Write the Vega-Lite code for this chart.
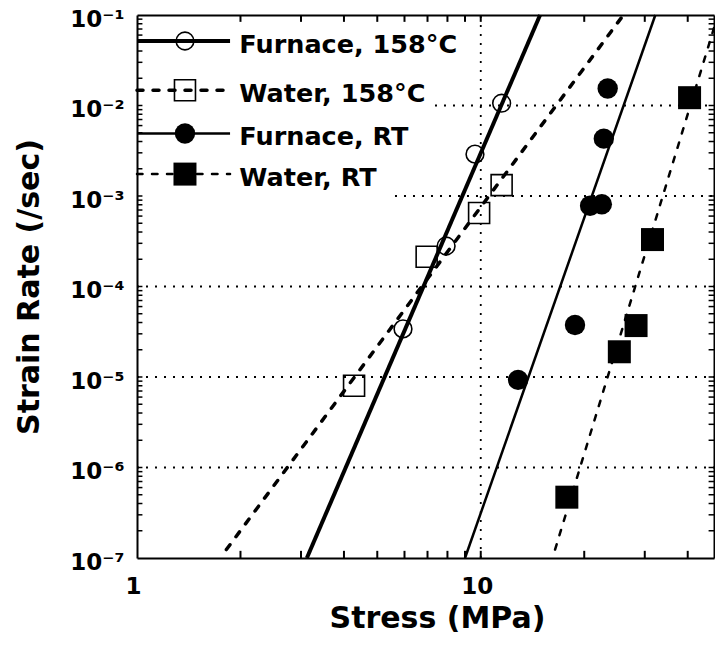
{
  "$schema": "https://vega.github.io/schema/vega-lite/v6.json",
  "width": 577,
  "height": 543,
  "autosize": "none",
  "padding": {"left": 137, "top": 15, "right": 1, "bottom": 88},
  "background": "white",
  "config": {
    "view": {"stroke": null},
    "font": "DejaVu Sans",
    "axis": {
      "grid": false,
      "ticks": false,
      "domainColor": "black",
      "domainWidth": 2,
      "labelFont": "DejaVu Sans",
      "labelFontWeight": "bold",
      "labelFontSize": 23,
      "labelColor": "black",
      "labelOverlap": false,
      "labelFlush": false,
      "titleFont": "DejaVu Sans",
      "titleFontWeight": "bold",
      "titleFontSize": 30,
      "titleColor": "black"
    }
  },
  "datasets": {
    "grid": [
      {"y": 0.01, "xa": 7.36, "xb": 47.7},
      {"y": 0.001, "xa": 5.63, "xb": 47.7},
      {"y": 0.0001, "xa": 1, "xb": 47.7},
      {"y": 0.00001, "xa": 1, "xb": 47.7},
      {"y": 0.000001, "xa": 1, "xb": 47.7}
    ],
    "vgrid": [
      {"x": 10, "ya": 1e-7, "yb": 0.1}
    ],
    "xticks": [
      {"v": 2}, {"v": 3}, {"v": 4}, {"v": 5}, {"v": 6}, {"v": 7}, {"v": 8}, {"v": 9},
      {"v": 10}, {"v": 20}, {"v": 30}, {"v": 40}
    ],
    "yticks": [
      {"v": 2e-7}, {"v": 3e-7}, {"v": 4e-7}, {"v": 5e-7}, {"v": 6e-7}, {"v": 7e-7}, {"v": 8e-7}, {"v": 9e-7},
      {"v": 1e-6}, {"v": 2e-6}, {"v": 3e-6}, {"v": 4e-6}, {"v": 5e-6}, {"v": 6e-6}, {"v": 7e-6}, {"v": 8e-6}, {"v": 9e-6},
      {"v": 1e-5}, {"v": 2e-5}, {"v": 3e-5}, {"v": 4e-5}, {"v": 5e-5}, {"v": 6e-5}, {"v": 7e-5}, {"v": 8e-5}, {"v": 9e-5},
      {"v": 1e-4}, {"v": 2e-4}, {"v": 3e-4}, {"v": 4e-4}, {"v": 5e-4}, {"v": 6e-4}, {"v": 7e-4}, {"v": 8e-4}, {"v": 9e-4},
      {"v": 0.001}, {"v": 0.002}, {"v": 0.003}, {"v": 0.004}, {"v": 0.005}, {"v": 0.006}, {"v": 0.007}, {"v": 0.008}, {"v": 0.009},
      {"v": 0.01}, {"v": 0.02}, {"v": 0.03}, {"v": 0.04}, {"v": 0.05}, {"v": 0.06}, {"v": 0.07}, {"v": 0.08}, {"v": 0.09}
    ],
    "lines": [
      {"series": "Furnace, 158°C", "part": "fit", "x1": 3.12, "y1": 1e-7, "x2": 14.88, "y2": 0.1},
      {"series": "Furnace, 158°C", "part": "key", "x1": 1, "y1": 0.0516, "x2": 1.865, "y2": 0.0516},
      {"series": "Water, 158°C", "part": "fit", "x1": 1.82, "y1": 1.24e-7, "x2": 26.0, "y2": 0.1},
      {"series": "Water, 158°C", "part": "key", "x1": 1, "y1": 0.01476, "x2": 1.865, "y2": 0.01476},
      {"series": "Furnace, RT", "part": "fit", "x1": 9.0, "y1": 1e-7, "x2": 32.2, "y2": 0.1},
      {"series": "Furnace, RT", "part": "key", "x1": 1, "y1": 0.00491, "x2": 1.865, "y2": 0.00491},
      {"series": "Water, RT", "part": "fit", "x1": 16.45, "y1": 1.24e-7, "x2": 47.7, "y2": 0.072},
      {"series": "Water, RT", "part": "key", "x1": 1, "y1": 0.001746, "x2": 1.865, "y2": 0.001746}
    ],
    "points": [
      {"series": "Furnace, 158°C", "x": 5.94, "y": 0.000034},
      {"series": "Furnace, 158°C", "x": 7.93, "y": 0.00028},
      {"series": "Furnace, 158°C", "x": 9.62, "y": 0.0029},
      {"series": "Furnace, 158°C", "x": 11.5, "y": 0.0106},
      {"series": "Furnace, 158°C", "x": 1.379, "y": 0.0516},
      {"series": "Water, 158°C", "x": 4.28, "y": 0.000008},
      {"series": "Water, 158°C", "x": 6.96, "y": 0.000213},
      {"series": "Water, 158°C", "x": 9.89, "y": 0.00065},
      {"series": "Water, 158°C", "x": 11.5, "y": 0.00132},
      {"series": "Water, 158°C", "x": 1.379, "y": 0.01476},
      {"series": "Furnace, RT", "x": 12.84, "y": 0.0000093},
      {"series": "Furnace, RT", "x": 18.8, "y": 0.0000376},
      {"series": "Furnace, RT", "x": 20.8, "y": 0.00078},
      {"series": "Furnace, RT", "x": 22.5, "y": 0.00081},
      {"series": "Furnace, RT", "x": 22.8, "y": 0.0043},
      {"series": "Furnace, RT", "x": 23.4, "y": 0.0154},
      {"series": "Furnace, RT", "x": 1.379, "y": 0.00491},
      {"series": "Water, RT", "x": 17.8, "y": 4.7e-7},
      {"series": "Water, RT", "x": 25.3, "y": 0.000019},
      {"series": "Water, RT", "x": 28.3, "y": 0.000037},
      {"series": "Water, RT", "x": 31.6, "y": 0.00033},
      {"series": "Water, RT", "x": 40.5, "y": 0.0122},
      {"series": "Water, RT", "x": 1.379, "y": 0.001746}
    ],
    "labels": [
      {"series": "Furnace, 158°C", "x": 1.985, "y": 0.0516},
      {"series": "Water, 158°C", "x": 1.985, "y": 0.01476},
      {"series": "Furnace, RT", "x": 1.985, "y": 0.00491},
      {"series": "Water, RT", "x": 1.985, "y": 0.001746}
    ]
  },
  "layer": [
    {
      "layer": [
        {
          "data": {"name": "grid"},
          "mark": {"type": "rule", "color": "black", "strokeWidth": 1.8, "strokeDash": [2, 7]},
          "encoding": {
            "x": {
              "field": "xa", "type": "quantitative",
              "scale": {"type": "log", "domain": [1, 47.7], "nice": false},
              "axis": {
                "orient": "bottom",
                "title": "Stress (MPa)",
                "ticks": false,
                "values": [1, 10],
                "labelExpr": "abs(datum.value - 1) < 1e-9 ? '1' : (abs(datum.value - 10) < 1e-9 ? '10' : '')",
                "labelPadding": 17,
                "labelOffset": -4,
                "titlePadding": 5,
                "titleX": 300
              }
            },
            "x2": {"field": "xb"},
            "y": {
              "field": "y", "type": "quantitative",
              "scale": {"type": "log", "domain": [1e-7, 0.1], "nice": false},
              "axis": {
                "orient": "left",
                "title": "Strain Rate (/sec)",
                "ticks": false,
                "values": [1e-7, 1e-6, 1e-5, 1e-4, 0.001, 0.01, 0.1],
                "labelExpr": "'10⁻' + substring('¹²³⁴⁵⁶⁷', round(-log(datum.value)/LN10) - 1, round(-log(datum.value)/LN10))",
                "labelPadding": 13,
                "labelOffset": 4,
                "titlePadding": 25
              }
            }
          }
        },
        {
          "data": {"name": "xticks"},
          "mark": {"type": "rule", "color": "black", "strokeWidth": 2},
          "encoding": {
            "x": {"field": "v", "type": "quantitative", "scale": {"type": "log", "domain": [1, 47.7], "nice": false}},
            "y": {"datum": 1e-7, "type": "quantitative", "scale": {"type": "log", "domain": [1e-7, 0.1], "nice": false}},
            "y2": {"datum": 1.2e-7}
          }
        },
        {
          "data": {"name": "xticks"},
          "mark": {"type": "rule", "color": "black", "strokeWidth": 2},
          "encoding": {
            "x": {"field": "v", "type": "quantitative", "scale": {"type": "log", "domain": [1, 47.7], "nice": false}},
            "y": {"datum": 0.1, "type": "quantitative", "scale": {"type": "log", "domain": [1e-7, 0.1], "nice": false}},
            "y2": {"datum": 0.084}
          }
        },
        {
          "data": {"name": "yticks"},
          "mark": {"type": "rule", "color": "black", "strokeWidth": 1.5},
          "encoding": {
            "x": {"datum": 1, "type": "quantitative", "scale": {"type": "log", "domain": [1, 47.7], "nice": false}},
            "x2": {"datum": 1.037},
            "y": {"field": "v", "type": "quantitative", "scale": {"type": "log", "domain": [1e-7, 0.1], "nice": false}}
          }
        },
        {
          "data": {"name": "yticks"},
          "mark": {"type": "rule", "color": "black", "strokeWidth": 1.5},
          "encoding": {
            "x": {"datum": 47.7, "type": "quantitative", "scale": {"type": "log", "domain": [1, 47.7], "nice": false}},
            "x2": {"datum": 46.0},
            "y": {"field": "v", "type": "quantitative", "scale": {"type": "log", "domain": [1e-7, 0.1], "nice": false}}
          }
        },
        {
          "data": {"name": "lines"},
          "transform": [{"filter": "datum.series == 'Furnace, 158°C'"}],
          "mark": {"type": "rule", "color": "black", "strokeWidth": 4},
          "encoding": {
            "x": {"field": "x1", "type": "quantitative", "scale": {"type": "log", "domain": [1, 47.7], "nice": false}},
            "x2": {"field": "x2"},
            "y": {"field": "y1", "type": "quantitative", "scale": {"type": "log", "domain": [1e-7, 0.1], "nice": false}},
            "y2": {"field": "y2"}
          }
        },
        {
          "data": {"name": "lines"},
          "transform": [{"filter": "datum.series == 'Water, 158°C'"}],
          "mark": {"type": "rule", "color": "black", "strokeWidth": 3.5, "strokeDash": [6, 10], "strokeCap": "round"},
          "encoding": {
            "x": {"field": "x1", "type": "quantitative", "scale": {"type": "log", "domain": [1, 47.7], "nice": false}},
            "x2": {"field": "x2"},
            "y": {"field": "y1", "type": "quantitative", "scale": {"type": "log", "domain": [1e-7, 0.1], "nice": false}},
            "y2": {"field": "y2"}
          }
        },
        {
          "data": {"name": "lines"},
          "transform": [{"filter": "datum.series == 'Furnace, RT'"}],
          "mark": {"type": "rule", "color": "black", "strokeWidth": 2.5},
          "encoding": {
            "x": {"field": "x1", "type": "quantitative", "scale": {"type": "log", "domain": [1, 47.7], "nice": false}},
            "x2": {"field": "x2"},
            "y": {"field": "y1", "type": "quantitative", "scale": {"type": "log", "domain": [1e-7, 0.1], "nice": false}},
            "y2": {"field": "y2"}
          }
        },
        {
          "data": {"name": "lines"},
          "transform": [{"filter": "datum.series == 'Water, RT'"}],
          "mark": {"type": "rule", "color": "black", "strokeWidth": 2.5, "strokeDash": [5.5, 9.5], "strokeCap": "round"},
          "encoding": {
            "x": {"field": "x1", "type": "quantitative", "scale": {"type": "log", "domain": [1, 47.7], "nice": false}},
            "x2": {"field": "x2"},
            "y": {"field": "y1", "type": "quantitative", "scale": {"type": "log", "domain": [1e-7, 0.1], "nice": false}},
            "y2": {"field": "y2"}
          }
        },
        {
          "data": {"name": "points"},
          "transform": [{"filter": "datum.series == 'Furnace, 158°C'"}],
          "mark": {"type": "point", "shape": "circle", "filled": false, "stroke": "black", "strokeWidth": 1.6, "size": 314, "opacity": 1},
          "encoding": {
            "x": {"field": "x", "type": "quantitative", "scale": {"type": "log", "domain": [1, 47.7], "nice": false}},
            "y": {"field": "y", "type": "quantitative", "scale": {"type": "log", "domain": [1e-7, 0.1], "nice": false}}
          }
        },
        {
          "data": {"name": "points"},
          "transform": [{"filter": "datum.series == 'Water, 158°C'"}],
          "mark": {"type": "point", "shape": "square", "filled": false, "stroke": "black", "strokeWidth": 1.6, "size": 441, "opacity": 1},
          "encoding": {
            "x": {"field": "x", "type": "quantitative", "scale": {"type": "log", "domain": [1, 47.7], "nice": false}},
            "y": {"field": "y", "type": "quantitative", "scale": {"type": "log", "domain": [1e-7, 0.1], "nice": false}}
          }
        },
        {
          "data": {"name": "points"},
          "transform": [{"filter": "datum.series == 'Furnace, RT'"}],
          "mark": {"type": "point", "shape": "circle", "filled": true, "fill": "black", "size": 415, "opacity": 1},
          "encoding": {
            "x": {"field": "x", "type": "quantitative", "scale": {"type": "log", "domain": [1, 47.7], "nice": false}},
            "y": {"field": "y", "type": "quantitative", "scale": {"type": "log", "domain": [1e-7, 0.1], "nice": false}}
          }
        },
        {
          "data": {"name": "points"},
          "transform": [{"filter": "datum.series == 'Water, RT'"}],
          "mark": {"type": "point", "shape": "square", "filled": true, "fill": "black", "size": 529, "opacity": 1},
          "encoding": {
            "x": {"field": "x", "type": "quantitative", "scale": {"type": "log", "domain": [1, 47.7], "nice": false}},
            "y": {"field": "y", "type": "quantitative", "scale": {"type": "log", "domain": [1e-7, 0.1], "nice": false}}
          }
        },
        {
          "data": {"name": "labels"},
          "mark": {"type": "text", "align": "left", "baseline": "alphabetic", "dy": 11.5, "font": "DejaVu Sans", "fontWeight": "bold", "fontSize": 25.5, "color": "black"},
          "encoding": {
            "x": {"field": "x", "type": "quantitative", "scale": {"type": "log", "domain": [1, 47.7], "nice": false}},
            "y": {"field": "y", "type": "quantitative", "scale": {"type": "log", "domain": [1e-7, 0.1], "nice": false}},
            "text": {"field": "series"}
          }
        }
      ]
    },
    {
      "data": {"name": "vgrid"},
      "mark": {"type": "rule", "color": "black", "strokeWidth": 1.8, "strokeDash": [2, 7]},
      "encoding": {
        "x": {
          "field": "x", "type": "quantitative",
          "scale": {"type": "log", "domain": [1, 47.7], "nice": false},
          "axis": {"orient": "top", "title": null, "labels": false, "ticks": false}
        },
        "y": {
          "field": "ya", "type": "quantitative",
          "scale": {"type": "log", "domain": [1e-7, 0.1], "nice": false},
          "axis": {"orient": "right", "title": null, "labels": false, "ticks": false}
        },
        "y2": {"field": "yb"}
      }
    }
  ],
  "resolve": {"axis": {"x": "independent", "y": "independent"}}
}
